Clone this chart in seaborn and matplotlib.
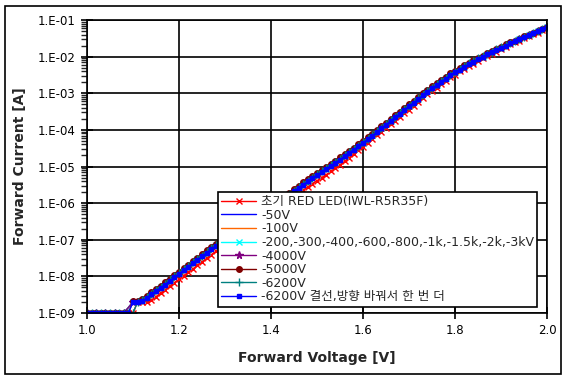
import math
import matplotlib
matplotlib.use("Agg")
import matplotlib.pyplot as plt
import matplotlib.ticker as mticker
import matplotlib.patches as mpatches
import pandas as pd
import seaborn as sns

# forward voltage [V], fine sweep (0.01 V) and coarse sweep (0.02 V)
volt_fine = [1.00, 1.01, 1.02, 1.03, 1.04, 1.05, 1.06, 1.07, 1.08, 1.09,
             1.10, 1.11, 1.12, 1.13, 1.14, 1.15, 1.16, 1.17, 1.18, 1.19,
             1.20, 1.21, 1.22, 1.23, 1.24, 1.25, 1.26, 1.27, 1.28, 1.29,
             1.30, 1.31, 1.32, 1.33, 1.34, 1.35, 1.36, 1.37, 1.38, 1.39,
             1.40, 1.41, 1.42, 1.43, 1.44, 1.45, 1.46, 1.47, 1.48, 1.49,
             1.50, 1.51, 1.52, 1.53, 1.54, 1.55, 1.56, 1.57, 1.58, 1.59,
             1.60, 1.61, 1.62, 1.63, 1.64, 1.65, 1.66, 1.67, 1.68, 1.69,
             1.70, 1.71, 1.72, 1.73, 1.74, 1.75, 1.76, 1.77, 1.78, 1.79,
             1.80, 1.81, 1.82, 1.83, 1.84, 1.85, 1.86, 1.87, 1.88, 1.89,
             1.90, 1.91, 1.92, 1.93, 1.94, 1.95, 1.96, 1.97, 1.98, 1.99, 2.00]
volt_coarse = [1.00, 1.02, 1.04, 1.06, 1.08, 1.10, 1.12, 1.14, 1.16, 1.18,
               1.20, 1.22, 1.24, 1.26, 1.28, 1.30, 1.32, 1.34, 1.36, 1.38,
               1.40, 1.42, 1.44, 1.46, 1.48, 1.50, 1.52, 1.54, 1.56, 1.58,
               1.60, 1.62, 1.64, 1.66, 1.68, 1.70, 1.72, 1.74, 1.76, 1.78,
               1.80, 1.82, 1.84, 1.86, 1.88, 1.90, 1.92, 1.94, 1.96, 1.98, 2.00]

# forward current [A]
i_init = [1e-9, 1e-9, 1e-9, 1e-9, 1e-9, 1e-9, 1e-9, 1e-9, 1e-9, 1e-9,
          1e-9, 2.0e-9, 2.0e-9, 2.0e-9, 2.2e-9, 2.8e-9, 3.5e-9, 4.3e-9, 5.4e-9, 6.8e-9,
          8.3e-9, 1.05e-8, 1.3e-8, 1.6e-8, 2.0e-8, 2.5e-8, 3.1e-8, 3.9e-8, 4.8e-8, 5.9e-8,
          7.2e-8, 8.9e-8, 1.1e-7, 1.35e-7, 1.6e-7, 2.0e-7, 2.45e-7, 3.0e-7, 3.6e-7, 4.5e-7,
          5.5e-7, 6.8e-7, 8.1e-7, 1.0e-6, 1.23e-6, 1.5e-6, 1.85e-6, 2.25e-6, 2.75e-6, 3.4e-6,
          4.1e-6, 5.0e-6, 6.0e-6, 7.4e-6, 8.9e-6, 1.1e-5, 1.38e-5, 1.74e-5, 2.2e-5, 2.75e-5,
          3.5e-5, 4.4e-5, 5.6e-5, 7.1e-5, 8.9e-5, 1.12e-4, 1.41e-4, 1.8e-4, 2.3e-4, 2.9e-4,
          3.6e-4, 4.6e-4, 5.75e-4, 7.4e-4, 9.3e-4, 1.15e-3, 1.4e-3, 1.74e-3, 2.2e-3, 2.7e-3,
          3.25e-3, 4.0e-3, 4.7e-3, 5.5e-3, 6.45e-3, 7.75e-3, 8.9e-3, 1.05e-2, 1.2e-2, 1.38e-2,
          1.6e-2, 1.82e-2, 2.15e-2, 2.45e-2, 2.75e-2, 3.15e-2, 3.55e-2, 4.05e-2, 4.55e-2, 5.25e-2, 5.9e-2]
i_50 = [1e-9, 1e-9, 1e-9, 1e-9, 1e-9, 2.0e-9, 2.1e-9, 3.2e-9, 4.9e-9, 7.6e-9,
        1.2e-8, 1.8e-8, 2.8e-8, 4.4e-8, 6.8e-8, 1.0e-7, 1.55e-7, 2.3e-7, 3.5e-7, 5.1e-7,
        7.8e-7, 1.15e-6, 1.7e-6, 2.6e-6, 3.9e-6, 5.8e-6, 8.5e-6, 1.26e-5, 1.9e-5, 2.9e-5,
        4.4e-5, 6.9e-5, 1.1e-4, 1.7e-4, 2.75e-4, 4.4e-4, 6.9e-4, 1.1e-3, 1.66e-3, 2.5e-3,
        3.7e-3, 5.2e-3, 7.2e-3, 9.8e-3, 1.3e-2, 1.75e-2, 2.3e-2, 2.95e-2, 3.8e-2, 4.9e-2, 6.3e-2]
i_100 = [1e-9, 1e-9, 1e-9, 1e-9, 1e-9, 2.0e-9, 2.1e-9, 3.1e-9, 4.8e-9, 7.5e-9,
         1.2e-8, 1.8e-8, 2.8e-8, 4.3e-8, 6.7e-8, 1.0e-7, 1.5e-7, 2.3e-7, 3.4e-7, 5.0e-7,
         7.7e-7, 1.15e-6, 1.7e-6, 2.6e-6, 3.9e-6, 5.7e-6, 8.4e-6, 1.25e-5, 1.9e-5, 2.9e-5,
         4.4e-5, 6.8e-5, 1.1e-4, 1.7e-4, 2.7e-4, 4.3e-4, 6.8e-4, 1.1e-3, 1.65e-3, 2.5e-3,
         3.7e-3, 5.2e-3, 7.2e-3, 9.8e-3, 1.3e-2, 1.75e-2, 2.3e-2, 2.95e-2, 3.8e-2, 4.9e-2, 6.4e-2]
i_200_3k = [1e-9, 1e-9, 1e-9, 1e-9, 1e-9, 2.0e-9, 2.2e-9, 3.3e-9, 5.0e-9, 7.8e-9,
            1.2e-8, 1.9e-8, 2.9e-8, 4.5e-8, 7.0e-8, 1.05e-7, 1.6e-7, 2.4e-7, 3.6e-7, 5.3e-7,
            8.0e-7, 1.2e-6, 1.75e-6, 2.7e-6, 4.0e-6, 6.0e-6, 8.8e-6, 1.3e-5, 1.95e-5, 3.0e-5,
            4.5e-5, 7.1e-5, 1.13e-4, 1.75e-4, 2.8e-4, 4.5e-4, 7.0e-4, 1.12e-3, 1.7e-3, 2.55e-3,
            3.75e-3, 5.3e-3, 7.3e-3, 9.9e-3, 1.32e-2, 1.77e-2, 2.32e-2, 2.97e-2, 3.82e-2, 4.9e-2, 6.4e-2]
i_4000 = [1e-9, 1e-9, 1e-9, 1e-9, 1e-9, 2.0e-9, 2.2e-9, 3.3e-9, 5.1e-9, 7.9e-9,
          1.25e-8, 1.9e-8, 2.9e-8, 4.6e-8, 7.1e-8, 1.05e-7, 1.6e-7, 2.4e-7, 3.6e-7, 5.3e-7,
          8.1e-7, 1.2e-6, 1.78e-6, 2.7e-6, 4.1e-6, 6.0e-6, 8.9e-6, 1.32e-5, 1.98e-5, 3.0e-5,
          4.6e-5, 7.2e-5, 1.15e-4, 1.78e-4, 2.85e-4, 4.55e-4, 7.1e-4, 1.13e-3, 1.7e-3, 2.55e-3,
          3.8e-3, 5.3e-3, 7.3e-3, 9.9e-3, 1.32e-2, 1.77e-2, 2.33e-2, 2.98e-2, 3.85e-2, 4.95e-2, 6.4e-2]
i_5000 = [1e-9, 1e-9, 1e-9, 1e-9, 1e-9, 1e-9, 1e-9, 1e-9, 1e-9, 1e-9,
          2.1e-9, 2.1e-9, 2.4e-9, 3.0e-9, 3.7e-9, 4.6e-9, 5.6e-9, 6.9e-9, 8.7e-9, 1.09e-8,
          1.35e-8, 1.7e-8, 2.07e-8, 2.65e-8, 3.2e-8, 4.0e-8, 5.1e-8, 6.3e-8, 7.8e-8, 9.5e-8,
          1.17e-7, 1.45e-7, 1.78e-7, 2.2e-7, 2.65e-7, 3.2e-7, 4.0e-7, 4.9e-7, 5.9e-7, 7.2e-7,
          9.0e-7, 1.09e-6, 1.32e-6, 1.6e-6, 1.95e-6, 2.4e-6, 3.0e-6, 3.7e-6, 4.5e-6, 5.5e-6,
          6.7e-6, 8.2e-6, 9.8e-6, 1.2e-5, 1.45e-5, 1.78e-5, 2.2e-5, 2.7e-5, 3.3e-5, 4.1e-5,
          5.0e-5, 6.3e-5, 7.9e-5, 1.0e-4, 1.26e-4, 1.58e-4, 2.0e-4, 2.5e-4, 3.15e-4, 4.0e-4,
          5.0e-4, 6.3e-4, 7.9e-4, 1.0e-3, 1.25e-3, 1.54e-3, 1.88e-3, 2.3e-3, 2.8e-3, 3.5e-3,
          4.15e-3, 4.95e-3, 5.8e-3, 6.85e-3, 7.9e-3, 9.3e-3, 1.07e-2, 1.25e-2, 1.43e-2, 1.62e-2,
          1.88e-2, 2.15e-2, 2.45e-2, 2.75e-2, 3.1e-2, 3.55e-2, 3.95e-2, 4.5e-2, 5.05e-2, 5.75e-2, 6.5e-2]
i_6200 = [1e-9, 1e-9, 1e-9, 1e-9, 1e-9, 1e-9, 1e-9, 1e-9, 1e-9, 1e-9,
          1e-9, 2.0e-9, 2.2e-9, 2.7e-9, 3.35e-9, 4.2e-9, 5.1e-9, 6.3e-9, 8.0e-9, 1.0e-8,
          1.23e-8, 1.55e-8, 1.9e-8, 2.4e-8, 2.95e-8, 3.7e-8, 4.6e-8, 5.8e-8, 7.1e-8, 8.7e-8,
          1.07e-7, 1.32e-7, 1.63e-7, 2.0e-7, 2.4e-7, 2.95e-7, 3.7e-7, 4.5e-7, 5.35e-7, 6.6e-7,
          8.2e-7, 1.0e-6, 1.2e-6, 1.47e-6, 1.78e-6, 2.2e-6, 2.7e-6, 3.35e-6, 4.1e-6, 5.0e-6,
          6.1e-6, 7.45e-6, 8.9e-6, 1.1e-5, 1.32e-5, 1.63e-5, 2.0e-5, 2.45e-5, 3.05e-5, 3.7e-5,
          4.6e-5, 5.8e-5, 7.2e-5, 9.1e-5, 1.15e-4, 1.45e-4, 1.83e-4, 2.3e-4, 2.9e-4, 3.65e-4,
          4.6e-4, 5.8e-4, 7.2e-4, 9.1e-4, 1.15e-3, 1.42e-3, 1.74e-3, 2.15e-3, 2.6e-3, 3.25e-3,
          3.85e-3, 4.65e-3, 5.5e-3, 6.5e-3, 7.5e-3, 8.9e-3, 1.02e-2, 1.2e-2, 1.38e-2, 1.57e-2,
          1.82e-2, 2.08e-2, 2.4e-2, 2.7e-2, 3.05e-2, 3.5e-2, 3.9e-2, 4.45e-2, 5.0e-2, 5.7e-2, 6.4e-2]
i_6200b = [1e-9, 1e-9, 1e-9, 1e-9, 1e-9, 1e-9, 1e-9, 1e-9, 1e-9, 1e-9,
           2.0e-9, 2.0e-9, 2.1e-9, 2.6e-9, 3.2e-9, 4.0e-9, 4.9e-9, 6.0e-9, 7.6e-9, 9.5e-9,
           1.17e-8, 1.48e-8, 1.8e-8, 2.3e-8, 2.8e-8, 3.5e-8, 4.4e-8, 5.5e-8, 6.8e-8, 8.3e-8,
           1.02e-7, 1.26e-7, 1.55e-7, 1.9e-7, 2.3e-7, 2.8e-7, 3.5e-7, 4.3e-7, 5.1e-7, 6.3e-7,
           7.8e-7, 9.5e-7, 1.15e-6, 1.4e-6, 1.7e-6, 2.1e-6, 2.6e-6, 3.2e-6, 3.9e-6, 4.8e-6,
           5.8e-6, 7.1e-6, 8.5e-6, 1.05e-5, 1.26e-5, 1.55e-5, 1.9e-5, 2.35e-5, 2.9e-5, 3.55e-5,
           4.4e-5, 5.5e-5, 6.9e-5, 8.7e-5, 1.1e-4, 1.38e-4, 1.74e-4, 2.2e-4, 2.75e-4, 3.5e-4,
           4.4e-4, 5.5e-4, 6.9e-4, 8.7e-4, 1.1e-3, 1.35e-3, 1.66e-3, 2.05e-3, 2.5e-3, 3.1e-3,
           3.7e-3, 4.45e-3, 5.25e-3, 6.2e-3, 7.2e-3, 8.5e-3, 9.8e-3, 1.15e-2, 1.32e-2, 1.5e-2,
           1.75e-2, 2.0e-2, 2.3e-2, 2.6e-2, 2.95e-2, 3.4e-2, 3.8e-2, 4.35e-2, 4.9e-2, 5.6e-2, 6.5e-2]

labels = ['초기 RED LED(IWL-R5R35F)', '-50V', '-100V',
          '-200,-300,-400,-600,-800,-1k,-1.5k,-2k,-3kV',
          '-4000V', '-5000V', '-6200V', '-6200V 결선,방향 바꿔서 한 번 더']
volts = [volt_fine, volt_coarse, volt_coarse, volt_coarse, volt_coarse,
         volt_fine, volt_fine, volt_fine]
currents = [i_init, i_50, i_100, i_200_3k, i_4000, i_5000, i_6200, i_6200b]
colors = ['#FF0000', '#0000FF', '#FF6600', '#00FFFF', '#800080', '#800000', '#008080', '#0000FF']
markers = ['x', None, None, 'x', '*', 'o', '+', 's']
msizes = [4.5, 0, 0, 4.5, 5.5, 4, 5.5, 2.5]

sns.set_style('white')
plt.rcParams['font.family'] = ['DejaVu Sans', 'Noto Sans CJK KR']

fig = plt.figure(figsize=(5.68, 3.80), dpi=100)
ax = fig.add_axes([87 / 568, 67 / 380, 460 / 568, 293 / 380])

for lab, v, cur, col, mk, ms in zip(labels, volts, currents, colors, markers, msizes):
    df = pd.DataFrame({'V': v, 'I': cur})
    sns.lineplot(data=df, x='V', y='I', ax=ax, color=col, marker=mk,
                 markersize=ms, markeredgewidth=1, markeredgecolor=col,
                 linewidth=1, label=lab, estimator=None, sort=False)

ax.set_yscale('log')
ax.set_xlim(1.0, 2.0)
ax.set_ylim(1e-9, 1e-1)
ax.set_xticks([1.0, 1.2, 1.4, 1.6, 1.8, 2.0])
ax.xaxis.set_major_formatter(mticker.FormatStrFormatter('%.1f'))
ax.yaxis.set_major_locator(mticker.LogLocator(base=10, numticks=20))
ax.yaxis.set_major_formatter(mticker.FuncFormatter(
    lambda v, p: '1.E-%02d' % round(-math.log10(v))))
ax.yaxis.set_minor_locator(mticker.LogLocator(base=10, subs=range(2, 10), numticks=20))
ax.yaxis.set_minor_formatter(mticker.NullFormatter())

ax.tick_params(axis='both', which='major', direction='inout', length=8, width=1.2,
               labelsize=8.5, colors='black', pad=4, left=True, bottom=True)
ax.tick_params(axis='y', which='minor', direction='out', length=4, width=1, left=True)
ax.grid(True, which='major', color='black', linewidth=1.2)
for s in ax.spines.values():
    s.set_color('black')
    s.set_linewidth(1.2)

ax.set_xlabel('Forward Voltage [V]', fontsize=10, fontweight='bold', labelpad=10)
ax.set_ylabel('Forward Current [A]', fontsize=10, fontweight='bold', labelpad=8)

leg = ax.legend(loc='lower left', bbox_to_anchor=(0.285, 0.022), fontsize=9,
                frameon=True, fancybox=False, edgecolor='black', framealpha=1,
                handlelength=2.8, labelspacing=0.05, borderpad=0.25, handletextpad=0.4,
                borderaxespad=0)
leg.get_frame().set_linewidth(1.2)

fig.patches.append(mpatches.Rectangle((5 / 568, 6 / 380), 556 / 568, 368 / 380,
                                      transform=fig.transFigure, fill=False,
                                      edgecolor='black', linewidth=1.2))

fig.savefig('out.png', dpi=100)
